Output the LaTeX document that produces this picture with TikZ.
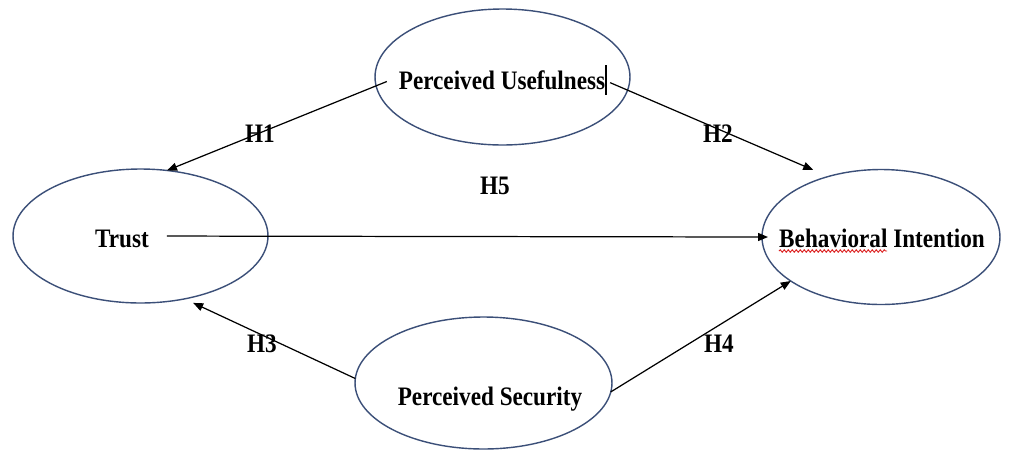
\documentclass[tikz,border=0pt]{standalone}
\usepackage{fontspec}
\setmainfont{Liberation Serif}
\usetikzlibrary{shapes.geometric,arrows.meta,decorations.pathmorphing,calc}
\definecolor{ellcol}{RGB}{59,79,120}
\definecolor{spellred}{RGB}{220,30,30}
\begin{document}
\begin{tikzpicture}[x=0.02cm,y=-0.02cm,
  construct/.style={ellipse,draw=ellcol,line width=0.8pt,inner sep=0pt,outer sep=0pt},
  lbl/.style={anchor=base,inner sep=0pt,font=\fontsize{13.2}{15}\selectfont\bfseries},
  arr/.style={draw=black,line width=0.7pt,-{Triangle[length=0.2cm,width=0.16cm]}}]
\newcommand{\tall}[1]{\scalebox{1}[1.15]{#1}}
% canvas
\fill[white] (0,0) rectangle (1012,451);
\useasboundingbox (0,0) rectangle (1012,451);

% constructs
\node[construct,minimum width=5.1cm,minimum height=2.72cm] (pu) at (502.5,77) {};
\node[construct,minimum width=5.1cm,minimum height=2.68cm] (trust) at (140.5,236) {};
\node[construct,minimum width=4.76cm,minimum height=2.7cm] (bi) at (881,237) {};
\node[construct,minimum width=5.14cm,minimum height=2.64cm] (ps) at (483.5,383) {};

% construct names
\node[lbl] (tpu) at (502,89) {\tall{Perceived Usefulness}};
\node[lbl] (ttrust) at (122,247) {\tall{Trust}};
\node[lbl] (tbi) at (882,247) {\tall{Behavioral Intention}};
\node[lbl] (tps) at (490,405) {\tall{Perceived Security}};

% hypothesis paths
\draw[arr,shorten <=-0.23cm] (pu.184) -- (trust.68);
\draw[arr,shorten <=-0.38cm,shorten >=0.33cm] (pu.-6.2) -- (bi.131.1);
\draw[arr,shorten >=0.19cm] (ps.178) -- (trust.-55.7);
\draw[arr] (ps.-4) -- (bi.206);
\draw[arr,shorten <=0.53cm,shorten >=-0.12cm] (trust.center) -- (bi.180);

% hypothesis labels
\node[lbl] (h1) at (260,142) {\tall{H1}};
\node[lbl] (h2) at (718,142) {\tall{H2}};
\node[lbl] (h3) at (262,352) {\tall{H3}};
\node[lbl] (h4) at (719,352) {\tall{H4}};
\node[lbl] (h5) at (495,194) {\tall{H5}};

% editing marks: text cursor and spell-check underline
\draw[line width=0.6pt] (606,65) -- (606,95);
\draw[spellred,line width=0.5pt,decorate,decoration={snake,amplitude=0.025cm,segment length=0.08cm}] (779,251) -- (887,251);
\end{tikzpicture}
\end{document}
